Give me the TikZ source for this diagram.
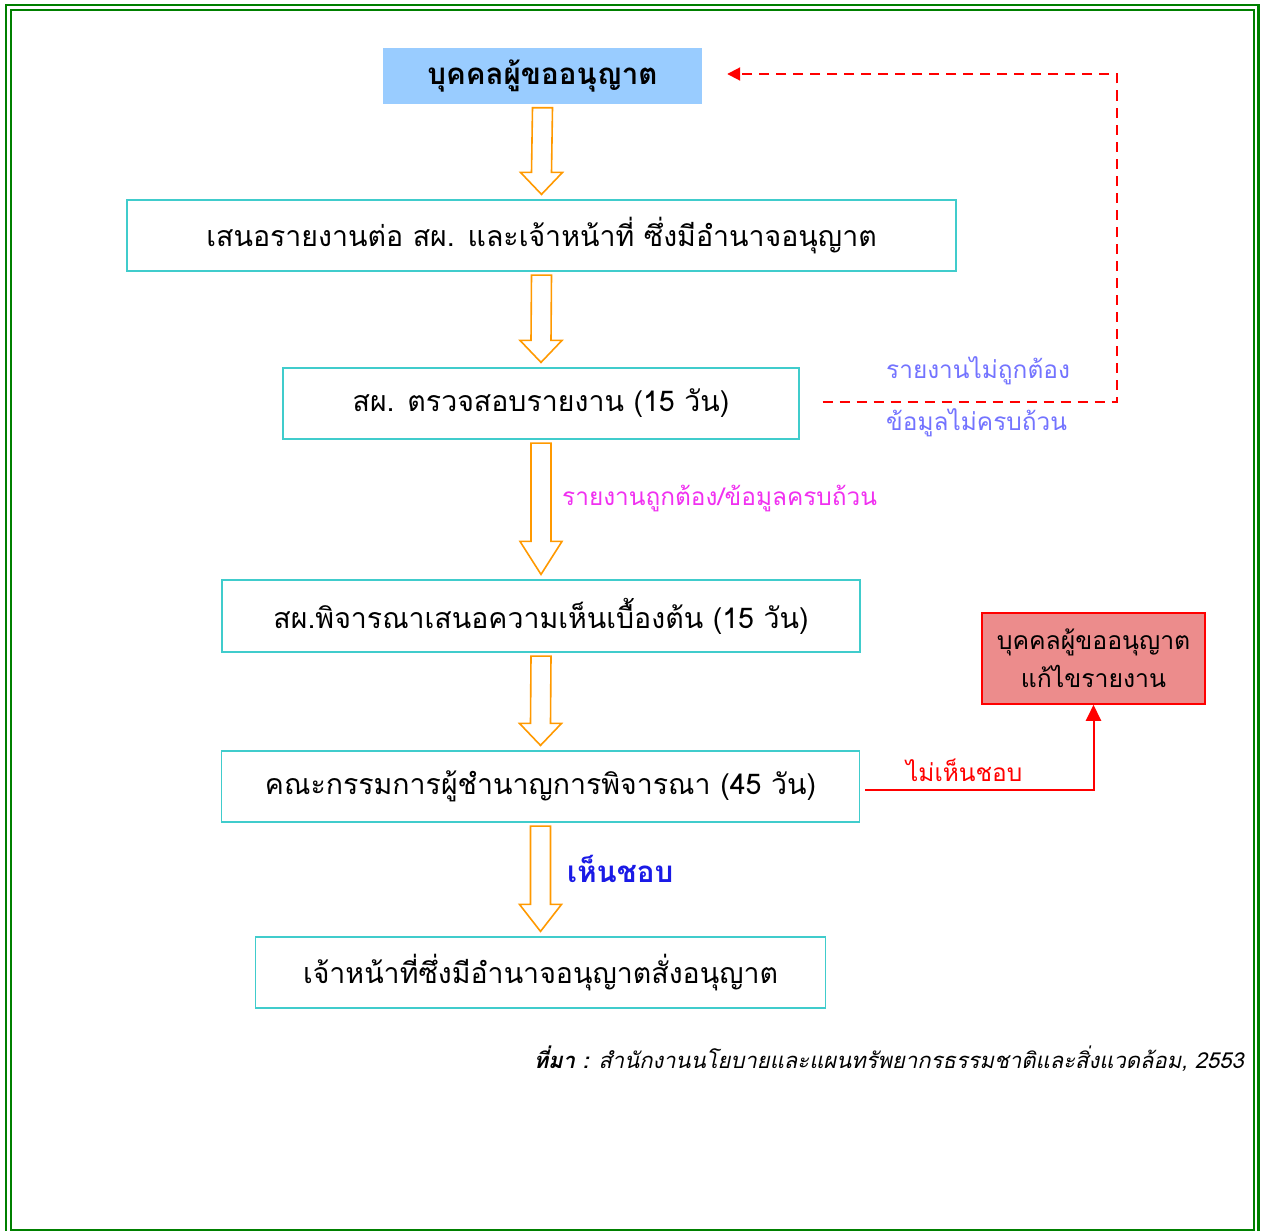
\documentclass[tikz,border=0pt]{standalone}
\usepackage{fontspec}
\setmainfont{Loma}[Script=Thai]
\usepackage{tikz}
\usetikzlibrary{arrows.meta, positioning, calc}
\definecolor{FrameGreen}{HTML}{008000}
\definecolor{HeadBlue}{HTML}{99CCFF}
\definecolor{BoxCyan}{HTML}{40CCCC}
\definecolor{ArrowOrange}{HTML}{FF9900}
\definecolor{LineRed}{HTML}{FF0000}
\definecolor{FixPink}{HTML}{EC8C8C}
\definecolor{NoteBlue}{HTML}{7373FF}
\definecolor{NoteMagenta}{HTML}{F030F0}
\definecolor{NoteDeepBlue}{HTML}{1A1AE6}
\tikzset{
    % Node styles
    headbox/.style={
        rectangle,
        draw=none,
        fill=HeadBlue,
        inner sep=0pt,
        text centered,
        font=\fontsize{29.5}{34}\selectfont\bfseries
    },
    stepbox/.style={
        rectangle,
        draw=BoxCyan,
        line width=1.2pt,
        fill=white,
        inner sep=0pt,
        text centered,
        font=\fontsize{28.5}{33}\selectfont
    },
    fixbox/.style={
        rectangle,
        draw=LineRed,
        line width=1.5pt,
        fill=FixPink,
        inner sep=0pt,
        align=center,
        font=\fontsize{24.8}{38}\selectfont
    },
    notetext/.style={
        anchor=west,
        inner sep=0pt,
        font=\fontsize{24.4}{28}\selectfont
    },
    % Connector styles
    hollowarrow/.style={
        draw=ArrowOrange,
        line width=1.6pt,
        fill=white,
        line join=miter
    },
    returnline/.style={
        draw=LineRed,
        line width=2pt,
        dash pattern=on 10pt off 7pt,
        -{Triangle[length=13pt,width=13pt]}
    },
    rejectline/.style={
        draw=LineRed,
        line width=2pt,
        -{Triangle[length=16pt,width=15pt]}
    }
}
% hollow block arrow: from, to, head height
\newcommand{\blockarrow}[3]{%
    \draw[hollowarrow] ($(#1.south)+(-10,3.5)$) -- ($(#2.north)+(-10,-5-#3)$)
        -- ($(#2.north)+(-21,-5-#3)$) -- ($(#2.north)+(0,-5)$)
        -- ($(#2.north)+(21,-5-#3)$) -- ($(#2.north)+(10,-5-#3)$)
        -- ($(#1.south)+(10,3.5)$) -- cycle;}

\begin{document}
\begin{tikzpicture}[x=1pt, y=-1pt]
    \useasboundingbox (0,0) rectangle (1261,1231);
    % Double frame
    \draw[FrameGreen, line width=2.5pt] (6,5) rectangle (1258.5,1240);
    \draw[FrameGreen, line width=2.5pt] (11,10) rectangle (1254,1230);

    % Steps
    \node[headbox, minimum width=319pt, minimum height=56pt] (applicant) at (542.5,76) {บุคคลผู้ขออนุญาต};
    \node[stepbox, minimum width=829pt, minimum height=71pt] (submit) at (541.5,235.5) {เสนอรายงานต่อ สผ. และเจ้าหน้าที่ ซึ่งมีอำนาจอนุญาต};
    \node[stepbox, minimum width=516pt, minimum height=71pt] (check) at (541,403.5) {สผ. ตรวจสอบรายงาน (15 วัน)};
    \node[stepbox, minimum width=638pt, minimum height=72pt] (opinion) at (541,616) {สผ.พิจารณาเสนอความเห็นเบื้องต้น (15 วัน)};
    \node[stepbox, minimum width=638pt, minimum height=71pt] (committee) at (540.5,786.5) {คณะกรรมการผู้ชำนาญการพิจารณา (45 วัน)};
    \node[stepbox, minimum width=570pt, minimum height=71pt] (permit) at (540.5,972.5) {เจ้าหน้าที่ซึ่งมีอำนาจอนุญาตสั่งอนุญาต};

    % Revision box
    \node[fixbox, minimum width=223pt, minimum height=91pt] (fixreport) at (1093.5,658.5) {บุคคลผู้ขออนุญาต\\แก้ไขรายงาน};

    % Main flow
    \blockarrow{applicant}{submit}{22}
    \blockarrow{submit}{check}{22}
    \blockarrow{check}{opinion}{33}
    \blockarrow{opinion}{committee}{22}
    \blockarrow{committee}{permit}{27}

    % Return path
    \draw[returnline] ($(check.east)+(23,-2)$) -- ++(294,0) |- ($(applicant.east)+(25,-2)$);
    \node[notetext, NoteBlue] (wrongnote) at (886,371) {รายงานไม่ถูกต้อง};
    \node[notetext, NoteBlue] (lacknote) at (886,423) {ข้อมูลไม่ครบถ้วน};

    % Labels on the flow
    \node[notetext, NoteMagenta] (oknote) at (562,498) {รายงานถูกต้อง/ข้อมูลครบถ้วน};
    \node[notetext, NoteDeepBlue, font=\fontsize{29.5}{34}\selectfont\bfseries] (approvenote) at (567,869) {เห็นชอบ};

    % Rejection path
    \draw[rejectline] ($(committee.east)+(5,3)$) -| (fixreport.south);
    \node[notetext, LineRed] (rejectnote) at (906,770) {ไม่เห็นชอบ};

    % Source
    \node[anchor=east, inner sep=0pt, font=\fontsize{22}{26}\selectfont\itshape] (source) at (1244,1059) {\textbf{ที่มา :} สำนักงานนโยบายและแผนทรัพยากรธรรมชาติและสิ่งแวดล้อม, 2553};
\end{tikzpicture}
\end{document}
